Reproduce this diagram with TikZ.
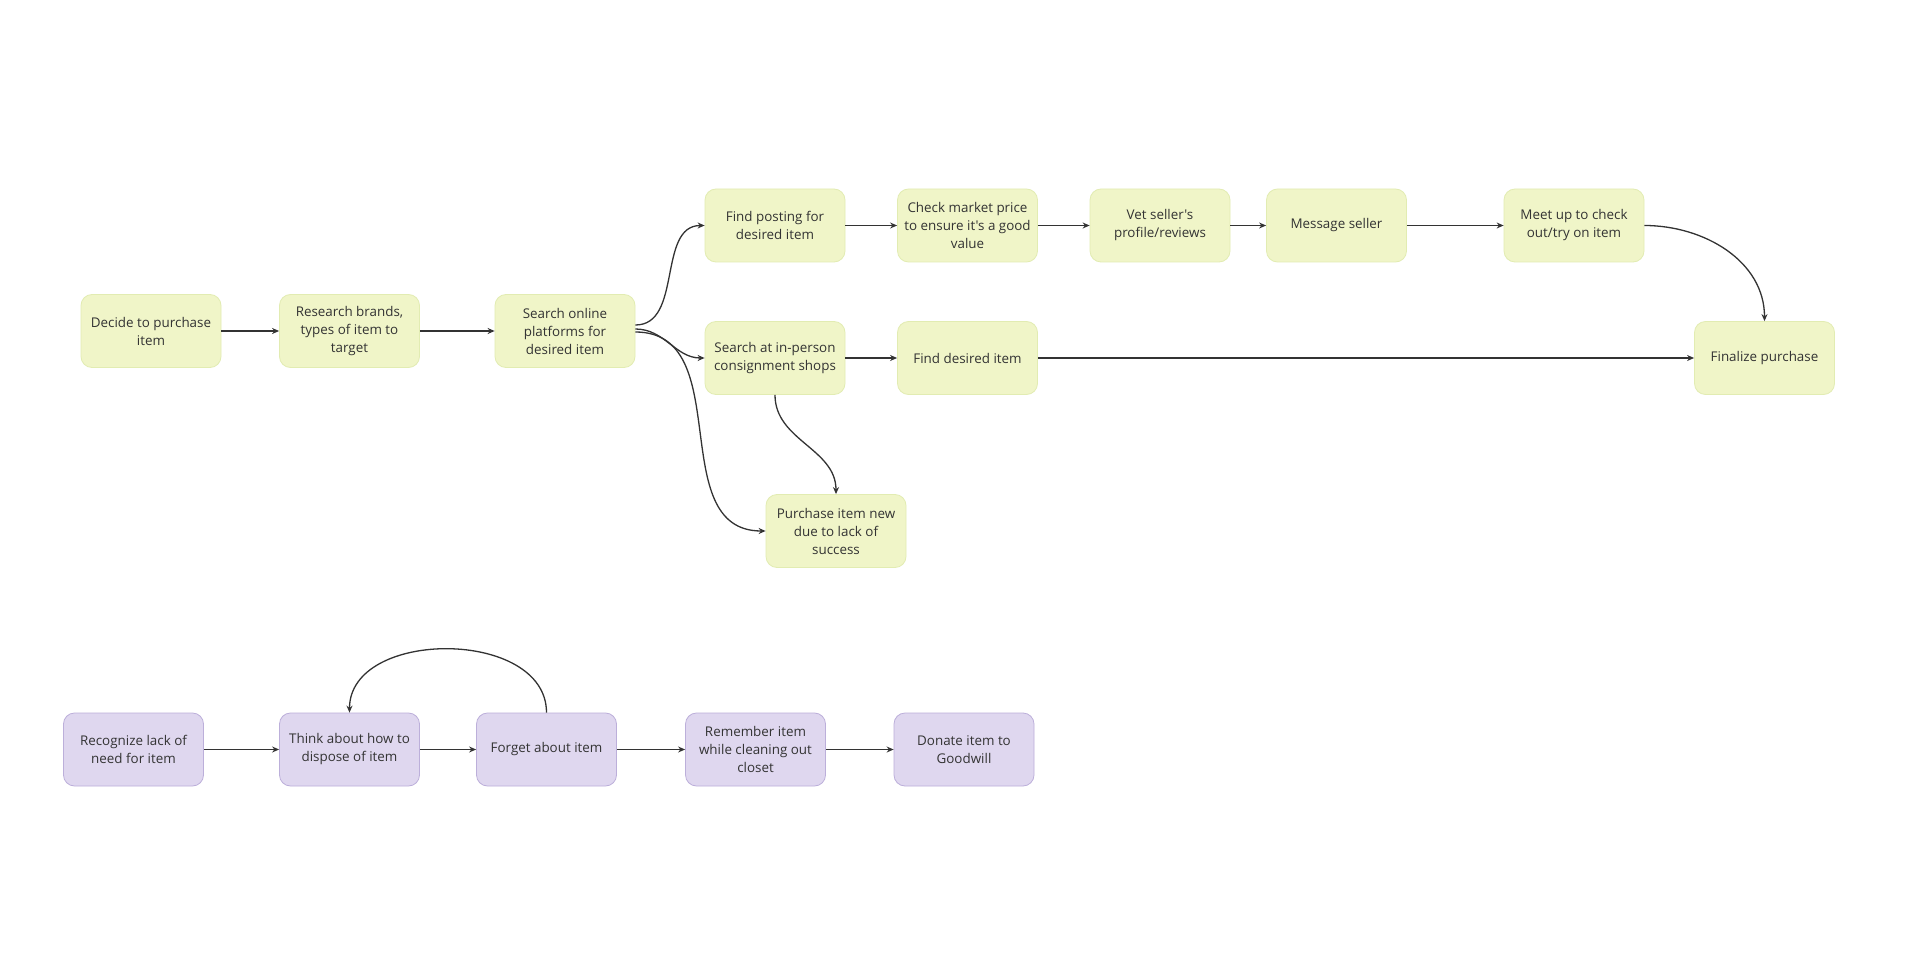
\documentclass[tikz,border=0pt]{standalone}
\usepackage{fontspec}
\setmainfont{Open Sans}[Ligatures=TeXOff]
\usetikzlibrary{arrows.meta, positioning}
\definecolor{stepgreen}{HTML}{F0F5C8}
\definecolor{stepgreenline}{HTML}{E2ECB2}
\definecolor{steppurple}{HTML}{DFD7EF}
\definecolor{steppurpleline}{HTML}{BCAFDA}
\definecolor{inkgray}{HTML}{333333}
\tikzstyle{arrow} = [line width=1.3pt, draw=inkgray, -{Stealth[length=7pt, width=6pt]}]
\tikzstyle{buystep} = [rectangle, rounded corners=11pt, minimum width=140pt, minimum height=73pt, align=center, text=inkgray, draw=stepgreenline, line width=0.8pt, fill=stepgreen, font=\fontsize{13.4}{18}\selectfont]
\tikzstyle{sellstep} = [buystep, draw=steppurpleline, fill=steppurple]

\begin{document}
\begin{tikzpicture}[x=1pt, y=-1pt]
\fill[white] (0,0) rectangle (1906,968);
\useasboundingbox (0,0) rectangle (1906,968);

% Buying flow
\node (decide) [buystep] at (151,331) {Decide to purchase\\item};
\node (research) [buystep] at (349.5,331) {Research brands,\\types of item to\\target};
\node (online) [buystep] at (565,331) {Search online\\platforms for\\desired item};
\node (posting) [buystep] at (775,225.5) {Find posting for\\desired item};
\node (market) [buystep] at (967.5,225.5) {Check market price\\to ensure it's a good\\value};
\node (vet) [buystep] at (1160,225.5) {Vet seller's\\profile/reviews};
\node (message) [buystep] at (1336.5,225.5) {Message seller};
\node (meet) [buystep] at (1574,225.5) {Meet up to check\\out/try on item};
\node (inperson) [buystep] at (775,358) {Search at in-person\\consignment shops};
\node (found) [buystep] at (967.5,358) {Find desired item};
\node (finalize) [buystep] at (1764.5,358) {Finalize purchase};
\node (buynew) [buystep] at (836,531) {Purchase item new\\due to lack of\\success};

% Selling flow
\node (recognize) [sellstep] at (133.5,749.5) {Recognize lack of\\need for item};
\node (think) [sellstep] at (349.5,749.5) {Think about how to\\dispose of item};
\node (forget) [sellstep] at (546.5,749.5) {Forget about item};
\node (remember) [sellstep] at (755.5,749.5) {Remember item\\while cleaning out\\closet};
\node (donate) [sellstep] at (964,749.5) {Donate item to\\Goodwill};

% Connections
\draw [arrow] (decide) -- (research);
\draw [arrow] (research) -- (online);
\draw [arrow] ([yshift=6pt]online.east) to[out=0, in=180] (posting.west);
\draw [arrow] ([yshift=2pt]online.east) to[out=0, in=180] (inperson.west);
\draw [arrow] ([yshift=-1pt]online.east) to[out=0, in=180, looseness=1.1] (buynew.west);
\draw [arrow] (inperson.south) to[out=-90, in=90] (buynew.north);
\draw [arrow] (posting) -- (market);
\draw [arrow] (market) -- (vet);
\draw [arrow] (vet) -- (message);
\draw [arrow] (message) -- (meet);
\draw [arrow] (meet.east) to[out=0, in=90] (finalize.north);
\draw [arrow] (inperson) -- (found);
\draw [arrow] (found) -- (finalize);

\draw [arrow] (recognize) -- (think);
\draw [arrow] (think) -- (forget);
\draw [arrow] (forget.north) to[out=90, in=90, looseness=1.1] (think.north);
\draw [arrow] (forget) -- (remember);
\draw [arrow] (remember) -- (donate);

\end{tikzpicture}
\end{document}
